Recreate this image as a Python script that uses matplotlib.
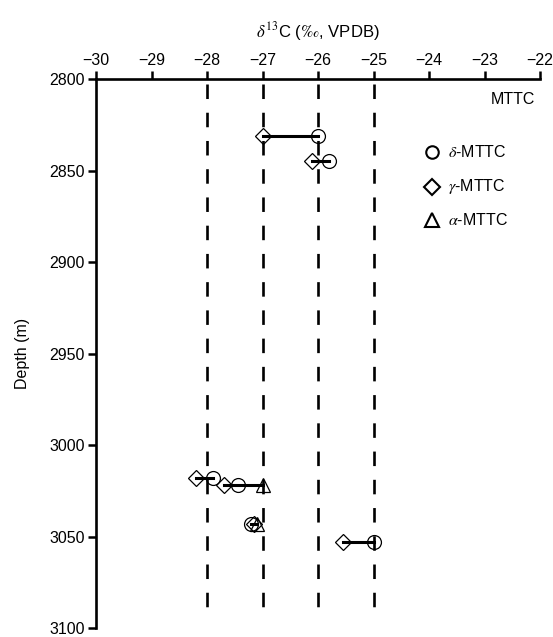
import numpy as np
import matplotlib
matplotlib.use("Agg")
import matplotlib.pyplot as plt

plt.rcParams['font.family'] = ['Liberation Sans', 'DejaVu Sans']
plt.rcParams['mathtext.fontset'] = 'stix'

# Data
depth = [2831, 2845, 3018, 3022, 3043, 3053]
delta_mttc = [-26.0, -25.8, -27.9, -27.45, -27.2, -25.0]
gamma_mttc = [-27.0, -26.1, -28.2, -27.7, -27.15, -25.55]
alpha_mttc = [np.nan, np.nan, np.nan, -27.0, -27.1, np.nan]
ref_lines = [-28, -27, -26, -25]
xticks = [-30, -29, -28, -27, -26, -25, -24, -23, -22]
yticks = [2800, 2850, 2900, 2950, 3000, 3050, 3100]

fig = plt.figure(figsize=(5.53, 6.37), dpi=100)
ax = fig.add_axes([0.1736, 0.014, 0.8029, 0.862])
ax.set_xlim(-30, -22)
ax.set_ylim(3100, 2800)

# dashed reference lines
for xv in ref_lines:
    ax.plot([xv, xv], [2803, 3090], color='black', lw=1.9,
            dashes=(5.5, 5.2), zorder=1)

# connecting lines
for d, a, b, c in zip(depth, delta_mttc, gamma_mttc, alpha_mttc):
    vals = [v for v in (a, b, c) if not np.isnan(v)]
    ax.plot([min(vals), max(vals)], [d, d], color='black', lw=2.2, zorder=2)

ms = 10
ax.plot(delta_mttc, depth, 'o', ms=ms, mfc='none', mec='black', mew=0.9, zorder=3)
ax.plot(gamma_mttc, depth, 'D', ms=8.3, mfc='none', mec='black', mew=0.9, zorder=3)
ax.plot(alpha_mttc, depth, '^', ms=ms, mfc='none', mec='black', mew=0.9, zorder=3)

# legend (manual)
ax.text(0.99, 0.962, 'MTTC', transform=ax.transAxes, ha='right', va='center', fontsize=11.5)
lx = 0.757
entries = [('o', 9, r'$\delta$-MTTC', 0.8675),
           ('D', 8, r'$\gamma$-MTTC', 0.804),
           ('^', 9.5, r'$\alpha$-MTTC', 0.744)]
for m, s, lab, yy in entries:
    ax.plot([lx], [yy], m, ms=s, mfc='none', mec='black', mew=1.5,
            transform=ax.transAxes, clip_on=False)
    ax.text(lx + 0.035, yy, lab, transform=ax.transAxes, ha='left', va='center', fontsize=11.5)

# axes styling
ax.xaxis.tick_top()
ax.xaxis.set_label_position('top')
ax.set_xticks(xticks)
ax.set_xticklabels([f'\u2212{abs(t)}' for t in xticks])
ax.set_yticks(yticks)
ax.tick_params(axis='both', direction='out', width=1.8, length=6, labelsize=11.5, pad=2)
for s in ['right', 'bottom']:
    ax.spines[s].set_visible(False)
for s in ['top', 'left']:
    ax.spines[s].set_linewidth(1.9)
ax.set_xlabel(r'$\delta^{13}$C ($\it{‰}$, VPDB)', fontsize=12, labelpad=11)
ax.set_ylabel('Depth (m)', fontsize=11.5, labelpad=14)

fig.savefig('out.png', dpi=100)
